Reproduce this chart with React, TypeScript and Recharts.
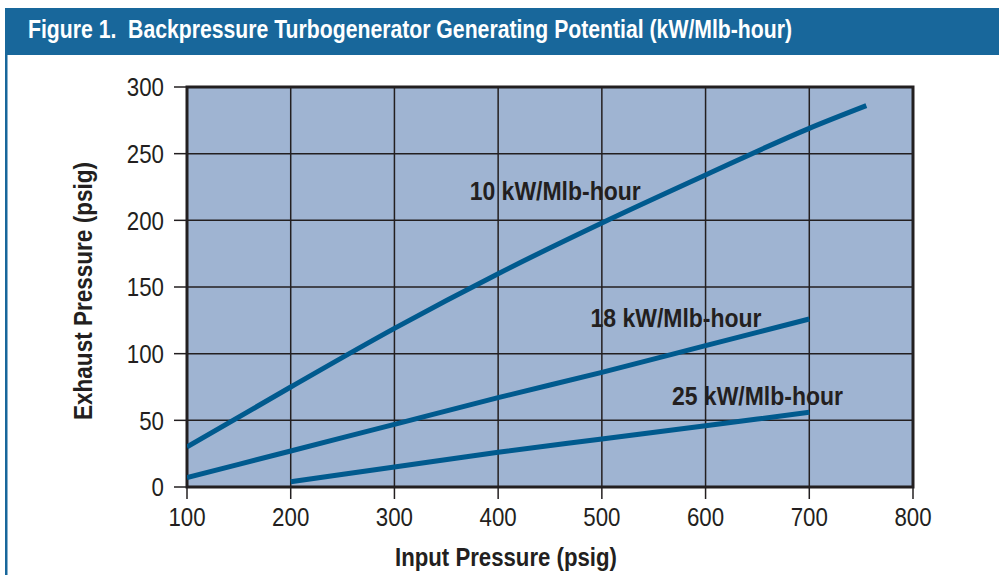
import React from "react";
import {
  LineChart,
  Line,
  XAxis,
  YAxis,
  CartesianGrid,
  ReferenceArea,
  ReferenceDot,
  Label,
} from "recharts";

const title = "Figure 1.  Backpressure Turbogenerator Generating Potential (kW/Mlb-hour)";
const xTitle = "Input Pressure (psig)";
const yTitle = "Exhaust Pressure (psig)";
const xTicks = [100, 200, 300, 400, 500, 600, 700, 800];
const yTicks = [0, 50, 100, 150, 200, 250, 300];

const s10 = [
  { x: 100, y: 30 },
  { x: 200, y: 75 },
  { x: 300, y: 119 },
  { x: 400, y: 160 },
  { x: 500, y: 198 },
  { x: 600, y: 234 },
  { x: 700, y: 269 },
  { x: 755, y: 286 },
];
const s18 = [
  { x: 100, y: 7 },
  { x: 200, y: 27 },
  { x: 300, y: 47 },
  { x: 400, y: 67 },
  { x: 500, y: 86 },
  { x: 600, y: 106 },
  { x: 700, y: 126 },
];
const s25 = [
  { x: 200, y: 4 },
  { x: 300, y: 15 },
  { x: 400, y: 26 },
  { x: 500, y: 36 },
  { x: 600, y: 46 },
  { x: 700, y: 56 },
];
const seriesLabels = [
  { text: "10 kW/Mlb-hour", x: 455, y: 215 },
  { text: "18 kW/Mlb-hour", x: 571.5, y: 120 },
  { text: "25 kW/Mlb-hour", x: 650, y: 61.5 },
];

const FONT = '"Liberation Sans", Arial, sans-serif';
const INK = "#231f20";
const LINE = "#005a8e";
const HEAD = "#18679b";
const TICK_FS = 26;
const DIGIT_W = 12.4;

const YTick = (props: any) => {
  const { x, y, payload } = props;
  const s = String(payload.value);
  return (
    <text
      x={x}
      y={y}
      dy="0.355em"
      textAnchor="end"
      fill={INK}
      fontFamily={FONT}
      fontSize={TICK_FS}
      textLength={s.length * DIGIT_W}
      lengthAdjust="spacingAndGlyphs"
    >
      {s}
    </text>
  );
};

const XTick = (props: any) => {
  const { x, y, payload } = props;
  const s = String(payload.value);
  return (
    <text
      x={x}
      y={y}
      dy="0.71em"
      textAnchor="middle"
      fill={INK}
      fontFamily={FONT}
      fontSize={TICK_FS}
      textLength={s.length * DIGIT_W}
      lengthAdjust="spacingAndGlyphs"
    >
      {s}
    </text>
  );
};

const SeriesLabel = (props: any) => {
  const vb = props.viewBox || {};
  return (
    <text
      x={vb.x}
      y={vb.y}
      textAnchor="middle"
      fill={INK}
      fontFamily={FONT}
      fontWeight="bold"
      fontSize={25}
      textLength={171}
      lengthAdjust="spacingAndGlyphs"
    >
      {props.value}
    </text>
  );
};

const XTitle = () => (
  <text
    x={506}
    y={566}
    textAnchor="middle"
    fill={INK}
    fontFamily={FONT}
    fontWeight="bold"
    fontSize={25}
    textLength={222}
    lengthAdjust="spacingAndGlyphs"
  >
    {xTitle}
  </text>
);

const YTitle = (props: any) => {
  const vb = props.viewBox || {};
  const cx = 92;
  const cy = vb.y + vb.height / 2 + 4;
  return (
    <text
      x={cx}
      y={cy}
      transform={`rotate(-90, ${cx}, ${cy})`}
      textAnchor="middle"
      fill={INK}
      fontFamily={FONT}
      fontWeight="bold"
      fontSize={25}
      textLength={258}
      lengthAdjust="spacingAndGlyphs"
    >
      {yTitle}
    </text>
  );
};

export default function App() {
  return (
    <div style={{ position: "absolute", left: 0, top: 0, width: 999, height: 575, background: "#fff", overflow: "hidden" }}>
      <div style={{ position: "absolute", left: 0, top: 0 }}>
        <LineChart
          width={999}
          height={575}
          margin={{ top: 87, right: 86, bottom: 48, left: 127 }}
        >
          <CartesianGrid
            stroke={INK}
            strokeWidth={1.5}
            fill="#9fb4d2"
            fillOpacity={1}
            horizontalValues={yTicks}
            verticalValues={xTicks}
          />
          <XAxis
            type="number"
            dataKey="x"
            domain={[100, 800]}
            ticks={xTicks}
            allowDataOverflow
            height={40}
            tickSize={12}
            tickMargin={9}
            axisLine={false}
            tickLine={{ stroke: INK, strokeWidth: 1.5 }}
            tick={<XTick />}
          >
            <Label content={<XTitle />} />
          </XAxis>
          <YAxis
            type="number"
            domain={[0, 300]}
            ticks={yTicks}
            allowDataOverflow
            width={60}
            tickSize={13}
            tickMargin={10}
            axisLine={false}
            tickLine={{ stroke: INK, strokeWidth: 1.5 }}
            tick={<YTick />}
          >
            <Label content={<YTitle />} />
          </YAxis>
          <ReferenceArea x1={100} x2={800} y1={0} y2={300} fill="none" stroke={INK} strokeWidth={3} />
          <Line data={s10} dataKey="y" type="monotone" stroke={LINE} strokeWidth={5} dot={false} isAnimationActive={false} />
          <Line data={s18} dataKey="y" type="monotone" stroke={LINE} strokeWidth={5} dot={false} isAnimationActive={false} />
          <Line data={s25} dataKey="y" type="monotone" stroke={LINE} strokeWidth={5} dot={false} isAnimationActive={false} />
          {seriesLabels.map((l) => (
            <ReferenceDot
              key={l.text}
              x={l.x}
              y={l.y}
              r={0}
              fill="none"
              stroke="none"
              label={<SeriesLabel value={l.text} />}
            />
          ))}
        </LineChart>
      </div>
      <svg width={999} height={575} style={{ position: "absolute", left: 0, top: 0, pointerEvents: "none" }}>
        <rect x={5} y={8} width={994} height={47} fill={HEAD} />
        <rect x={5} y={55} width={2.5} height={520} fill={HEAD} />
        <text
          x={28}
          y={38}
          fill="#fff"
          fontFamily={FONT}
          fontWeight="bold"
          fontSize={26}
          textLength={764}
          lengthAdjust="spacingAndGlyphs"
          style={{ whiteSpace: "pre" }}
        >
          {title}
        </text>
      </svg>
    </div>
  );
}
